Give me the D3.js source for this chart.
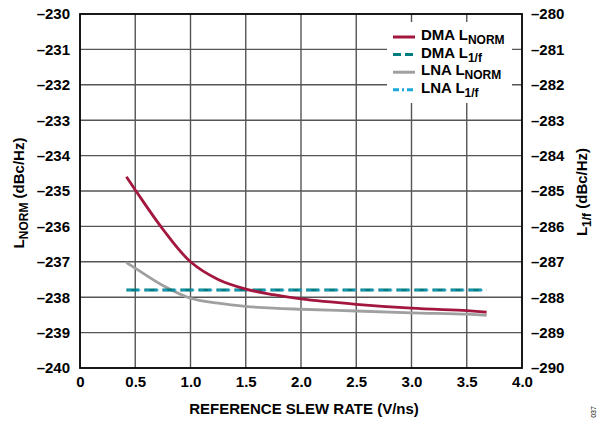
<!DOCTYPE html>
<html><head><meta charset="utf-8">
<script src="https://cdn.jsdelivr.net/npm/d3@7"></script>
<style>
html,body{margin:0;padding:0;background:#fff;}
text{font-family:"Liberation Sans",Arial,Helvetica,sans-serif;font-weight:bold;fill:#000;}
</style></head>
<body><svg id="c" width="599" height="421"></svg>
<script>
// Data
const xTicks = [0, 0.5, 1.0, 1.5, 2.0, 2.5, 3.0, 3.5, 4.0];
const yLeftTicks = [-230,-231,-232,-233,-234,-235,-236,-237,-238,-239,-240];
const yRightTicks = [-280,-281,-282,-283,-284,-285,-286,-287,-288,-289,-290];
const slewRate = [0.42, 0.5, 0.75, 1.0, 1.25, 1.5, 1.75, 2.0, 2.5, 3.0, 3.5, 3.68];
const dmaLnorm = [-234.6, -234.97, -236.08, -237.0, -237.5, -237.77, -237.93, -238.05, -238.2, -238.31, -238.38, -238.42];
const lnaLnorm = [-237.02, -237.18, -237.67, -238.03, -238.17, -238.26, -238.31, -238.34, -238.39, -238.44, -238.48, -238.51];
const dmaL1f = [-287.8, -287.8, -287.8, -287.8, -287.8, -287.8, -287.8, -287.8, -287.8, -287.8, -287.8, -287.8];
const lnaL1f = [-287.8, -287.8, -287.8, -287.8, -287.8, -287.8, -287.8, -287.8, -287.8, -287.8, -287.8, -287.8];

const svg = d3.select("#c");
const L = 80, R = 522, T = 14, B = 368;
const FS = "15px", SFS = "12px";
const x = d3.scaleLinear().domain([0,4]).range([L,R]);
const yL = d3.scaleLinear().domain([-240,-230]).range([B,T]);
const yR = d3.scaleLinear().domain([-290,-280]).range([B,T]);

const fmt = v => (v<0?"\u2013":"") + Math.abs(v);

// grid
const g = svg.append("g");
g.selectAll(".vg").data(xTicks.slice(1,-1)).enter().append("line")
 .attr("x1",d=>x(d)).attr("x2",d=>x(d)).attr("y1",T).attr("y2",B)
 .attr("stroke","#555").attr("stroke-width",1.4);
g.selectAll(".hg").data(yLeftTicks.slice(1,-1)).enter().append("line")
 .attr("y1",d=>yL(d)).attr("y2",d=>yL(d)).attr("x1",L).attr("x2",R)
 .attr("stroke","#555").attr("stroke-width",1.4);

// legend background
svg.append("rect").attr("x",387).attr("y",22).attr("width",125).attr("height",81).attr("fill","#fff");

// frame
svg.append("rect").attr("x",L).attr("y",T).attr("width",R-L).attr("height",B-T)
 .attr("fill","none").attr("stroke","#000").attr("stroke-width",1.8);

// axes (labels only)
const axB = d3.axisBottom(x).tickValues(xTicks).tickSize(0).tickPadding(8)
 .tickFormat(d=> d===0?"0":d3.format(".1f")(d));
const gb = svg.append("g").attr("transform",`translate(0,${B})`).call(axB);
const axLft = d3.axisLeft(yL).tickValues(yLeftTicks).tickSize(0).tickPadding(10).tickFormat(fmt);
const gl = svg.append("g").attr("transform",`translate(${L},0)`).call(axLft);
const axRt = d3.axisRight(yR).tickValues(yRightTicks).tickSize(0).tickPadding(9).tickFormat(fmt);
const gr = svg.append("g").attr("transform",`translate(${R},0)`).call(axRt);
[gb,gl,gr].forEach(a=>{a.select(".domain").remove();
 a.selectAll("text").style("font-family","'Liberation Sans',Arial,sans-serif").style("font-weight","bold").style("font-size",FS).attr("fill","#000");});

// lines
const lineL = d3.line().x((d,i)=>x(slewRate[i])).y(d=>yL(d)).curve(d3.curveCatmullRom.alpha(0.5));
const lineR = d3.line().x((d,i)=>x(slewRate[i])).y(d=>yR(d)).curve(d3.curveCatmullRom.alpha(0.5));
svg.append("path").attr("d",lineL(lnaLnorm)).attr("fill","none").attr("stroke","#a0a0a0").attr("stroke-width",2.8);
svg.append("path").attr("d",lineR(dmaL1f)).attr("fill","none").attr("stroke","#007b7f").attr("stroke-width",3).attr("stroke-dasharray","13,5");
svg.append("path").attr("d",lineR(lnaL1f)).attr("fill","none").attr("stroke","#1ea7d9").attr("stroke-width",1.3).attr("stroke-dasharray","4,5").attr("stroke-dashoffset","-1");
svg.append("path").attr("d",lineL(dmaLnorm)).attr("fill","none").attr("stroke","#a3173f").attr("stroke-width",2.8);

// legend
const leg = [
 {name:"DMA L",sub:"NORM",color:"#a3173f",dash:null},
 {name:"DMA L",sub:"1/f",color:"#007b7f",dash:"8,4"},
 {name:"LNA L",sub:"NORM",color:"#a0a0a0",dash:null},
 {name:"LNA L",sub:"1/f",color:"#1ea7d9",dash:"6,3,2,3"}
];
leg.forEach((e,i)=>{
 const yy = 37 + i*17.6;
 svg.append("line").attr("x1",393).attr("x2",415).attr("y1",yy).attr("y2",yy)
  .attr("stroke",e.color).attr("stroke-width",3).attr("stroke-dasharray",e.dash);
 const t = svg.append("text").attr("x",421).attr("y",yy+3).style("font-size",FS);
 t.append("tspan").text(e.name);
 t.append("tspan").attr("dy",4).style("font-size",SFS).text(e.sub);
});

// axis titles
const tl = svg.append("text").attr("transform","translate(24,193) rotate(-90)").attr("text-anchor","middle").style("font-size",FS);
tl.append("tspan").text("L");
tl.append("tspan").attr("dy",4).style("font-size",SFS).text("NORM");
tl.append("tspan").attr("dy",-4).text(" (dBc/Hz)");
const tr = svg.append("text").attr("transform","translate(587,192) rotate(-90)").attr("text-anchor","middle").style("font-size",FS);
tr.append("tspan").text("L");
tr.append("tspan").attr("dy",4).style("font-size",SFS).text("1/f");
tr.append("tspan").attr("dy",-4).text(" (dBc/Hz)");
svg.append("text").attr("x",(L+R)/2+3).attr("y",414).attr("text-anchor","middle").style("font-size",FS).text("REFERENCE SLEW RATE (V/ns)");
svg.append("text").attr("transform","translate(596,412) rotate(-90)").attr("text-anchor","middle")
 .style("font-size","7px").style("font-weight","normal").text("037");
</script></body></html>
